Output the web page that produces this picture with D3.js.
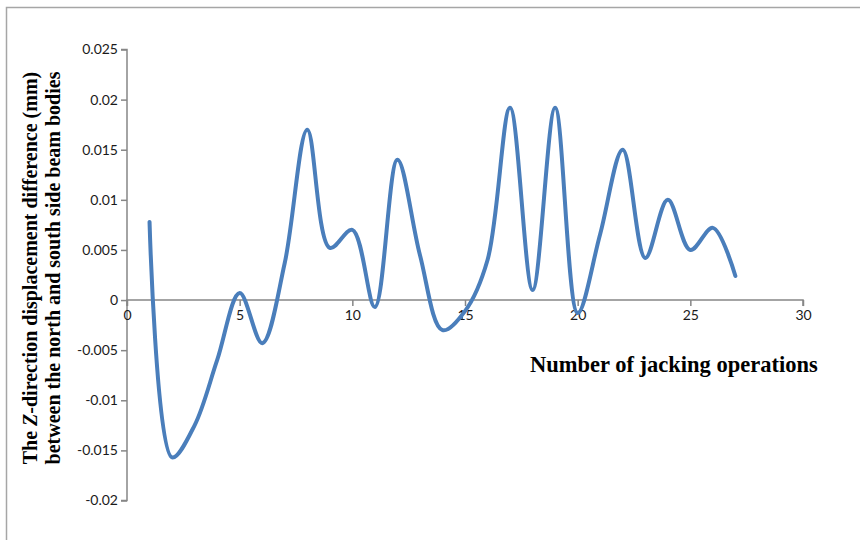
<!DOCTYPE html>
<html>
<head>
<meta charset="utf-8">
<script src="https://cdn.jsdelivr.net/npm/d3@7"></script>
<style>
  html, body { margin: 0; padding: 0; background: #fff; }
  svg { display: block; }
</style>
</head>
<body>
<svg id="chart" width="860" height="540"></svg>
<script>
// Jacking operation number and the Z-direction displacement difference (mm)
const operations = [1, 2, 3, 4, 5, 6, 7, 8, 9, 10, 11, 12, 13, 14, 15, 16, 17, 18, 19, 20, 21, 22, 23, 24, 25, 26, 27];
const zDifference = [0.0078, -0.0157, -0.0125, -0.006, 0.0007, -0.0043, 0.0037, 0.017, 0.0052, 0.007, -0.0007, 0.014, 0.0045, -0.003, -0.0011, 0.004, 0.0192, 0.001, 0.0192, -0.0013, 0.0066, 0.015, 0.0042, 0.01, 0.005, 0.0072, 0.0024];
const xTicks = [0, 5, 10, 15, 20, 25, 30];
const yTicks = [-0.02, -0.015, -0.01, -0.005, 0, 0.005, 0.01, 0.015, 0.02, 0.025];

const svg = d3.select("#chart");

// outer frame (top and left edges)
svg.append("path")
  .attr("d", "M6.5,540 L6.5,7.5 L860,7.5")
  .attr("fill", "none")
  .attr("stroke", "#a6a6a6")
  .attr("stroke-width", 1.5);

const x = d3.scaleLinear().domain([0, 30]).range([127, 803]);
const y = d3.scaleLinear().domain([-0.02, 0.025]).range([500.5, 49.5]);

const axisColor = "#868686";
const tickFont = "Lato, 'Open Sans', sans-serif";

// y axis
const yAxis = svg.append("g")
  .attr("transform", `translate(${x(0)},0)`)
  .call(d3.axisLeft(y).tickValues(yTicks).tickSize(6).tickPadding(3)
    .tickFormat(d => d === 0 ? "0" : String(+d.toFixed(3))));
yAxis.select(".domain").attr("stroke", axisColor).attr("stroke-width", 1.5).attr("d", `M-6,${y(0.025)}H0V${y(-0.02)}H-6`);
yAxis.selectAll(".tick line").attr("stroke", axisColor).attr("stroke-width", 1.5);
yAxis.selectAll(".tick text")
  .attr("fill", "#1a1a1a")
  .style("font-family", tickFont)
  .style("font-size", "14px");

// x axis drawn along zero
const xAxis = svg.append("g")
  .attr("transform", `translate(0,${y(0)})`)
  .call(d3.axisBottom(x).tickValues(xTicks).tickSize(6).tickPadding(4).tickFormat(d3.format("d")));
xAxis.select(".domain").attr("stroke", axisColor).attr("stroke-width", 1.5).attr("d", `M${x(0)},6V0H${x(30)}V6`);
xAxis.selectAll(".tick line").attr("stroke", axisColor).attr("stroke-width", 1.5);
xAxis.selectAll(".tick text")
  .attr("fill", "#1a1a1a")
  .style("font-family", tickFont)
  .style("font-size", "14px");

// smoothed data line
const line = d3.line()
  .x((d, i) => x(operations[i]))
  .y(d => y(d))
  .curve(d3.curveCatmullRom.alpha(0.5));

svg.append("path")
  .datum(zDifference)
  .attr("d", line)
  .attr("fill", "none")
  .attr("stroke", "#4a7ebb")
  .attr("stroke-width", 4)
  .attr("stroke-linejoin", "round")
  .attr("stroke-linecap", "round");

// axis titles
const titleFont = "'Liberation Serif', 'Times New Roman', serif";

svg.append("text")
  .attr("x", 530)
  .attr("y", 372)
  .attr("font-family", titleFont)
  .attr("font-weight", "bold")
  .attr("font-size", 22.5)
  .attr("fill", "#000")
  .text("Number of jacking operations");

const yTitle = svg.append("text")
  .attr("transform", "translate(0,268) rotate(-90)")
  .attr("font-family", titleFont)
  .attr("font-weight", "bold")
  .attr("font-size", 20)
  .attr("fill", "#000")
  .attr("text-anchor", "middle");

const l1 = yTitle.append("tspan").attr("x", 0).attr("y", 37);
l1.append("tspan").text("The ");
l1.append("tspan").attr("font-style", "italic").text("Z");
l1.append("tspan").text("-direction displacement difference (mm)");
yTitle.append("tspan").attr("x", 0).attr("y", 60).text("between the north and south side beam bodies");
</script>
</body>
</html>
